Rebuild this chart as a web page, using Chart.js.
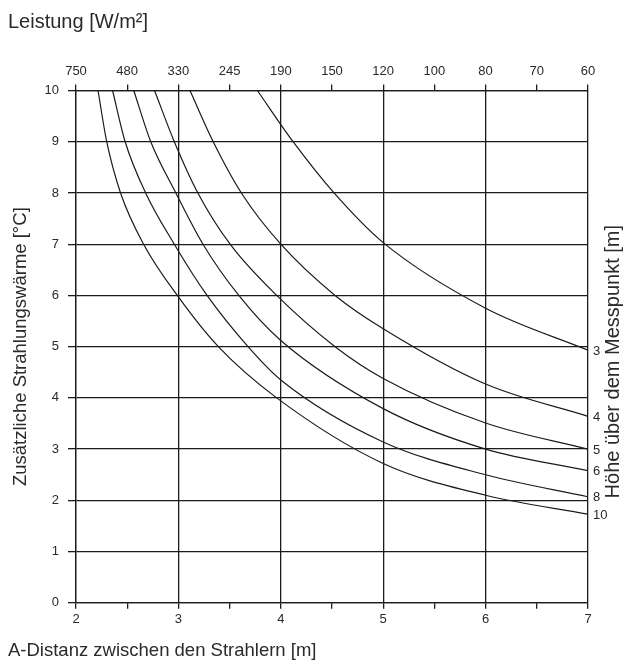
<!DOCTYPE html>
<html>
<head>
<meta charset="utf-8">
<script src="https://cdn.jsdelivr.net/npm/chart.js@4"></script>
<style>
  html, body { margin: 0; padding: 0; background: #fff; }
  #wrap { width: 630px; height: 666px; position: relative; }
</style>
</head>
<body>
<div id="wrap"><canvas id="chart"></canvas></div>
<script>
// ── Data ──────────────────────────────────────────────────────────────────────
const topLabels = ["750", "480", "330", "245", "190", "150", "120", "100", "80", "70", "60"];
const heights = ["3", "4", "5", "6", "8", "10"];

const h3X = [3.771, 4.12, 4.52, 5, 6, 7];
const h3Y = [10, 9, 8, 7.03, 5.75, 4.93];

const h4X = [3.113, 3.34, 3.615, 4, 4.53, 5, 6, 7];
const h4Y = [10, 9, 8, 7, 6, 5.35, 4.27, 3.64];

const h5X = [2.767, 2.96, 3.19, 3.505, 3.96, 4.53, 5, 6, 7];
const h5Y = [10, 9, 8, 7, 6, 5, 4.38, 3.51, 3.0];

const h6X = [2.564, 2.73, 2.975, 3.24, 3.59, 4, 5, 6, 7];
const h6Y = [10, 9, 8, 7, 6, 5.12, 3.79, 3.0, 2.58];

const h8X = [2.357, 2.48, 2.68, 2.96, 3.28, 3.68, 4, 5, 6, 7];
const h8Y = [10, 9, 8, 7, 6, 5, 4.35, 3.14, 2.50, 2.07];

const h10X = [2.215, 2.30, 2.435, 2.66, 3.0, 3.39, 3.96, 5, 6, 7];
const h10Y = [10, 9, 8, 7, 5.97, 5, 4, 2.72, 2.10, 1.73];

const curves = [
    [h3X, h3Y], [h4X, h4Y], [h5X, h5Y], [h6X, h6Y], [h8X, h8Y], [h10X, h10Y],
];

// ── Styles ────────────────────────────────────────────────────────────────────
const INK = "#1b1b1b";
const TEXT = "#2a2a2a";
Chart.defaults.font.family = "'Liberation Sans', Arial, sans-serif";
Chart.defaults.color = TEXT;

const isWhole = (v) => Math.abs(v - Math.round(v)) < 1e-6;

// curve labels at the right end + right-hand axis title
const sideText = {
    id: "sideText",
    afterDatasetsDraw(chart) {
        const { ctx, scales } = chart;
        ctx.save();
        ctx.fillStyle = TEXT;
        ctx.font = "13px 'Liberation Sans', Arial, sans-serif";
        ctx.textAlign = "left";
        ctx.textBaseline = "middle";
        chart.data.datasets.forEach((ds) => {
            const last = ds.data[ds.data.length - 1];
            const px = scales.x.getPixelForValue(last.x) + 5;
            const py = scales.y.getPixelForValue(last.y) + 1;
            ctx.fillText(ds.label, px, py);
        });

        ctx.font = "20px 'Liberation Sans', Arial, sans-serif";
        ctx.textAlign = "center";
        ctx.translate(613, (chart.chartArea.top + chart.chartArea.bottom) / 2 + 15);
        ctx.rotate(-Math.PI / 2);
        ctx.fillText("Höhe über dem Messpunkt [m]", 0, 0);
        ctx.restore();
    },
};

new Chart(document.getElementById("chart"), {
    type: "scatter",
    data: {
        datasets: curves.map(([xs, ys], i) => ({
            label: heights[i],
            data: xs.map((x, j) => ({ x, y: ys[j] })),
            showLine: true,
            borderColor: INK,
            borderWidth: 1.2,
            pointRadius: 0,
            pointHoverRadius: 0,
            cubicInterpolationMode: "monotone",
            fill: false,
        })),
    },
    options: {
        responsive: true,
        maintainAspectRatio: false,
        animation: false,
        layout: { padding: { left: 8, right: 42, top: 0, bottom: 0 } },
        plugins: {
            legend: { display: false },
            tooltip: { enabled: false },
            title: {
                display: true,
                text: "Leistung [W/m²]",
                align: "start",
                color: TEXT,
                font: { size: 20, weight: "normal" },
                padding: { top: 10, bottom: 6 },
            },
            subtitle: {
                display: true,
                text: "A-Distanz zwischen den Strahlern [m]",
                position: "bottom",
                align: "start",
                color: TEXT,
                font: { size: 18.5, weight: "normal" },
                padding: { top: 5, bottom: 4 },
            },
        },
        scales: {
            x: {
                type: "linear",
                position: "bottom",
                min: 2,
                max: 7,
                afterFit: (s) => { s.height = 32; },
                border: { color: INK, width: 1.3 },
                grid: {
                    color: (c) => (isWhole(c.tick.value) ? INK : "rgba(0,0,0,0)"),
                    tickColor: INK,
                    lineWidth: 1.3,
                    tickLength: 6,
                },
                ticks: {
                    stepSize: 0.5,
                    autoSkip: false,
                    maxRotation: 0,
                    padding: 3,
                    font: { size: 13 },
                    color: TEXT,
                    callback: (v) => (isWhole(v) ? String(v) : ""),
                },
            },
            x2: {
                type: "linear",
                position: "top",
                min: 2,
                max: 7,
                afterFit: (s) => { s.height = 50.5; },
                border: { color: INK, width: 1.3 },
                grid: {
                    drawOnChartArea: false,
                    color: INK,
                    lineWidth: 1.3,
                    tickLength: 6,
                },
                ticks: {
                    stepSize: 0.5,
                    autoSkip: false,
                    maxRotation: 0,
                    padding: 5.5,
                    font: { size: 13 },
                    color: TEXT,
                    callback: (v, i) => topLabels[i],
                },
            },
            y: {
                min: 0,
                max: 10,
                afterFit: (s) => { s.width = 68; },
                border: { color: INK, width: 1.3 },
                grid: {
                    color: INK,
                    lineWidth: 1.3,
                    tickLength: 8,
                },
                ticks: {
                    stepSize: 1,
                    padding: 9,
                    font: { size: 13 },
                    color: TEXT,
                },
                title: {
                    display: true,
                    text: "Zusätzliche Strahlungswärme [°C]",
                    color: TEXT,
                    font: { size: 18.5, weight: "normal" },
                    padding: { top: 2, bottom: 0 },
                },
            },
        },
    },
    plugins: [sideText],
});
</script>
</body>
</html>
